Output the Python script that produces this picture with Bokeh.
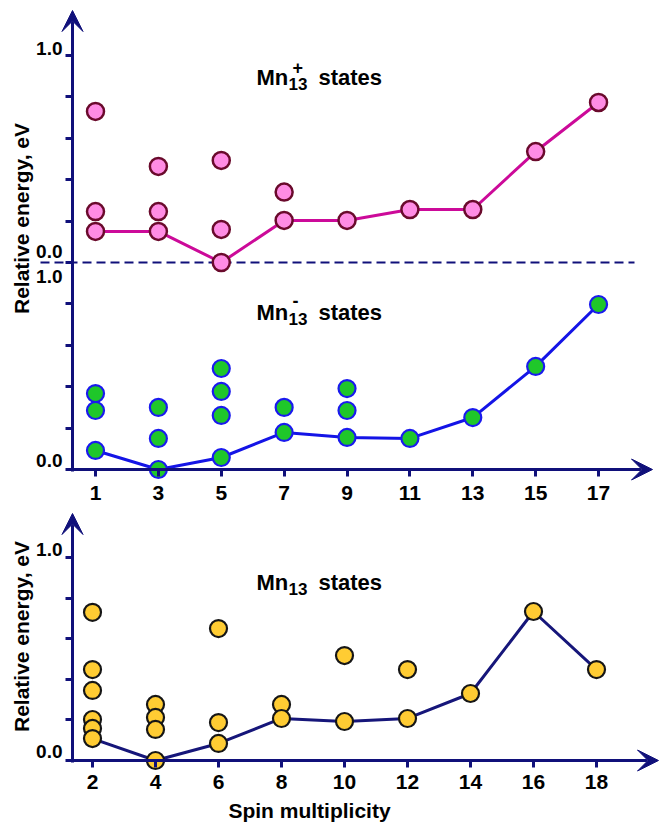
import numpy as np
from bokeh.plotting import figure
from bokeh.models import LinearAxis, FixedTicker, Range1d, Arrow, VeeHead, Label
from bokeh.layouts import column
from bokeh.embed import file_html
from bokeh.resources import INLINE

# ---------------- data (relative energies, eV) ----------------
# Mn13+ (cation) states, odd spin multiplicities
cation_spin = [1, 3, 5, 7, 9, 11, 13, 15, 17]
cation_ground = [0.15, 0.15, 0.0, 0.203, 0.203, 0.256, 0.256, 0.536, 0.773]
cation_excited_spin = [1, 1, 3, 3, 5, 5, 7]
cation_excited = [0.73, 0.246, 0.464, 0.246, 0.493, 0.16, 0.34]

# Mn13- (anion) states
anion_spin = [1, 3, 5, 7, 9, 11, 13, 15, 17]
anion_ground = [0.092, 0.0, 0.058, 0.179, 0.155, 0.15, 0.251, 0.498, 0.797]
anion_excited_spin = [1, 1, 3, 3, 5, 5, 5, 7, 9, 9]
anion_excited = [0.367, 0.285, 0.30, 0.15, 0.488, 0.377, 0.261, 0.30, 0.391, 0.285]

# Mn13 (neutral) states, even spin multiplicities
neutral_spin = [2, 4, 6, 8, 10, 12, 14, 16, 18]
neutral_ground = [0.108, 0.0, 0.084, 0.207, 0.192, 0.207, 0.33, 0.734, 0.448]
neutral_excited_spin = [2, 2, 2, 2, 2, 4, 4, 4, 6, 6, 8, 10, 12]
neutral_excited = [0.73, 0.448, 0.345, 0.202, 0.158, 0.276, 0.212, 0.153,
                   0.65, 0.187, 0.276, 0.517, 0.448]

top_x_ticks = [1, 3, 5, 7, 9, 11, 13, 15, 17]
bottom_x_ticks = [2, 4, 6, 8, 10, 12, 14, 16, 18]
energy_ticks = [0.0, 0.2, 0.4, 0.6, 0.8, 1.0]
energy_tick_labels = ["0.0", "1.0"]       # only the ends are labelled
PANEL_SHIFT = 1.0                          # cation panel sits on top of the anion panel

# ---------------- styling ----------------
FONT = "Liberation Sans"
NAVY = "#10107a"
W = 660
TOP_H, BOT_H = 508, 316
MARGIN = 0

# geometry (page pixels)
SX_T, SY_T = 31.44, 207.0
X0_T_PAGE, Y0_T_PAGE = 95, 469          # page position of x=1, y=0
SX_B, SY_B = 31.5, 203.0
X0_B_PAGE, Y0_B_PAGE = 92, 760          # page position of x=2, y=0
TOP_PAGE = MARGIN
BOT_PAGE = MARGIN + TOP_H

t_xs = 1 - (X0_T_PAGE - MARGIN) / SX_T
t_ye = (Y0_T_PAGE - TOP_PAGE) / SY_T
b_xs = 2 - (X0_B_PAGE - MARGIN) / SX_B
b_ye = (Y0_B_PAGE - BOT_PAGE) / SY_B


def top_xy(px, py):
    return 1 + (px - X0_T_PAGE) / SX_T, (Y0_T_PAGE - py) / SY_T


def bot_xy(px, py):
    return 2 + (px - X0_B_PAGE) / SX_B, (Y0_B_PAGE - py) / SY_B


def make_fig(h, xr, yr):
    p = figure(width=W, height=h, x_range=Range1d(*xr), y_range=Range1d(*yr),
               output_backend="svg", toolbar_location=None,
               x_axis_location=None, y_axis_location=None, min_border=0)
    p.grid.visible = False
    p.outline_line_color = None
    return p


def style_labels(ax, size="20px"):
    ax.major_label_text_font = FONT
    ax.major_label_text_font_style = "bold"
    ax.major_label_text_font_size = size
    ax.major_label_text_color = "black"


def add_x_axis(p, ticks, standoff):
    ax = LinearAxis(ticker=FixedTicker(ticks=ticks), fixed_location=0)
    ax.axis_line_color = None
    ax.major_tick_line_color = NAVY
    ax.major_tick_line_width = 3
    ax.major_tick_out = 7
    ax.major_tick_in = 0
    ax.minor_tick_line_color = None
    ax.major_label_standoff = standoff
    style_labels(ax, "21px")
    p.add_layout(ax, "below")


def add_y_axis(p, xloc, tick_vals, label_pos, label_txt):
    ax = LinearAxis(ticker=FixedTicker(ticks=tick_vals), fixed_location=xloc)
    ax.axis_line_color = None
    ax.major_tick_line_color = NAVY
    ax.major_tick_line_width = 3
    ax.major_tick_out = 7
    ax.major_tick_in = 0
    ax.minor_tick_line_color = None
    ax.major_label_overrides = {float(t): "" for t in tick_vals}
    p.add_layout(ax, "left")
    lab = LinearAxis(ticker=FixedTicker(ticks=label_pos), fixed_location=xloc)
    lab.axis_line_color = None
    lab.major_tick_line_color = None
    lab.minor_tick_line_color = None
    lab.major_tick_out = 0
    lab.major_tick_in = 0
    lab.major_label_standoff = 10
    lab.major_label_overrides = {float(v): t for v, t in zip(label_pos, label_txt)}
    style_labels(lab, "19px")
    p.add_layout(lab, "left")


def arrow(p, x0, y0, x1, y1):
    p.add_layout(Arrow(end=VeeHead(size=21, fill_color=NAVY, line_color=NAVY, line_width=1),
                       x_start=x0, y_start=y0, x_end=x1, y_end=y1,
                       line_color=NAVY, line_width=3))


def state_title(p, x, y, sub, sup, sup_dy):
    common = dict(text_font=FONT, text_font_style="bold", text_color="black",
                  text_baseline="alphabetic", text_align="left")
    p.add_layout(Label(x=x, y=y, text="Mn", text_font_size="22px", **common))
    p.add_layout(Label(x=x, y=y, x_offset=32, y_offset=-6, text=sub,
                       text_font_size="17px", **common))
    if sup:
        p.add_layout(Label(x=x, y=y, x_offset=36, y_offset=sup_dy, text=sup,
                           text_font_size="18px", **common))
    p.add_layout(Label(x=x, y=y, x_offset=62, text="states", text_font_size="22px", **common))


def ytitle(p, x, y):
    p.add_layout(Label(x=x, y=y, text="Relative energy, eV", angle=np.pi / 2,
                       text_font=FONT, text_font_style="bold", text_font_size="21px",
                       text_align="center", text_baseline="middle", text_color="black"))


# ================= top figure: Mn13+ over Mn13- =================
top = make_fig(TOP_H, (t_xs, t_xs + W / SX_T), (t_ye - TOP_H / SY_T, t_ye))
y_axis_x_t, _ = top_xy(72, 0)

add_x_axis(top, top_x_ticks, 9)
tick_vals_t = sorted(set([round(v, 2) for v in energy_ticks] +
                         [round(v + PANEL_SHIFT, 2) for v in energy_ticks]))
lab_pos_t = [0 + 9 / SY_T, PANEL_SHIFT - 14 / SY_T, PANEL_SHIFT + 11 / SY_T,
             2 * PANEL_SHIFT + 7 / SY_T]
lab_txt_t = [energy_tick_labels[0], energy_tick_labels[1],
             energy_tick_labels[0], energy_tick_labels[1]]
add_y_axis(top, y_axis_x_t, tick_vals_t, lab_pos_t, lab_txt_t)

tip_x_t, _ = top_xy(652, 0)
_, tip_y_t = top_xy(0, 10)
arrow(top, y_axis_x_t - 0.05, 0, tip_x_t, 0)
arrow(top, y_axis_x_t, -0.01, y_axis_x_t, tip_y_t)

# dashed separator between the two panels
dx0, _ = top_xy(40, 0)
dx1, _ = top_xy(634, 0)
top.line([dx0, dx1], [PANEL_SHIFT, PANEL_SHIFT], line_color=NAVY, line_width=2,
         line_dash="9 5")

cat_g = [v + PANEL_SHIFT for v in cation_ground]
cat_e = [v + PANEL_SHIFT for v in cation_excited]
top.line(cation_spin, cat_g, line_color="#cc0a99", line_width=3)
top.scatter(cation_excited_spin, cat_e, size=17, fill_color="#ff8ce4",
            line_color="#6a0a2c", line_width=2.5)
top.scatter(cation_spin, cat_g, size=17, fill_color="#ff8ce4",
            line_color="#6a0a2c", line_width=2.5)

top.line(anion_spin, anion_ground, line_color="#1414e6", line_width=3)
top.scatter(anion_excited_spin, anion_excited, size=17, fill_color="#1fc72a",
            line_color="#1a1aee", line_width=2.2)
top.scatter(anion_spin, anion_ground, size=17, fill_color="#1fc72a",
            line_color="#1a1aee", line_width=2.2)

tx, ty = top_xy(256, 77)
state_title(top, tx, ty, "13", "+", 10)
tx, ty = top_xy(256, 312)
state_title(top, tx, ty, "13", "-", 12)
tx, ty = top_xy(21, 218)
ytitle(top, tx, ty)

# ================= bottom figure: Mn13 =================
bot = make_fig(BOT_H, (b_xs, b_xs + W / SX_B), (b_ye - BOT_H / SY_B, b_ye))
y_axis_x_b, _ = bot_xy(72, 0)
add_x_axis(bot, bottom_x_ticks, 7)
lab_pos_b = [0 + 9 / SY_B, 1.0 + 8 / SY_B]
add_y_axis(bot, y_axis_x_b, energy_ticks, lab_pos_b, energy_tick_labels)

tip_x_b, _ = bot_xy(658, 0)
_, tip_y_b = bot_xy(0, 513)
arrow(bot, y_axis_x_b - 0.05, 0, tip_x_b, 0)
arrow(bot, y_axis_x_b, -0.01, y_axis_x_b, tip_y_b)

bot.line(neutral_spin, neutral_ground, line_color="#16167a", line_width=3)
bot.scatter(neutral_excited_spin, neutral_excited, size=17, fill_color="#ffcc33",
            line_color="#161616", line_width=2.2)
bot.scatter(neutral_spin, neutral_ground, size=17, fill_color="#ffcc33",
            line_color="#161616", line_width=2.2)

bx, by = bot_xy(256, 582)
state_title(bot, bx, by, "13", "", 0)
bx, by = bot_xy(21, 636)
ytitle(bot, bx, by)
sx, sy = bot_xy(309, 810)
bot.add_layout(Label(x=sx, y=sy, text="Spin multiplicity", text_font=FONT,
                     text_font_style="bold", text_font_size="21px", text_align="center",
                     text_baseline="alphabetic", text_color="black"))

layout = column(top, bot, spacing=0)
open("out.html", "w").write(file_html(layout, INLINE))
